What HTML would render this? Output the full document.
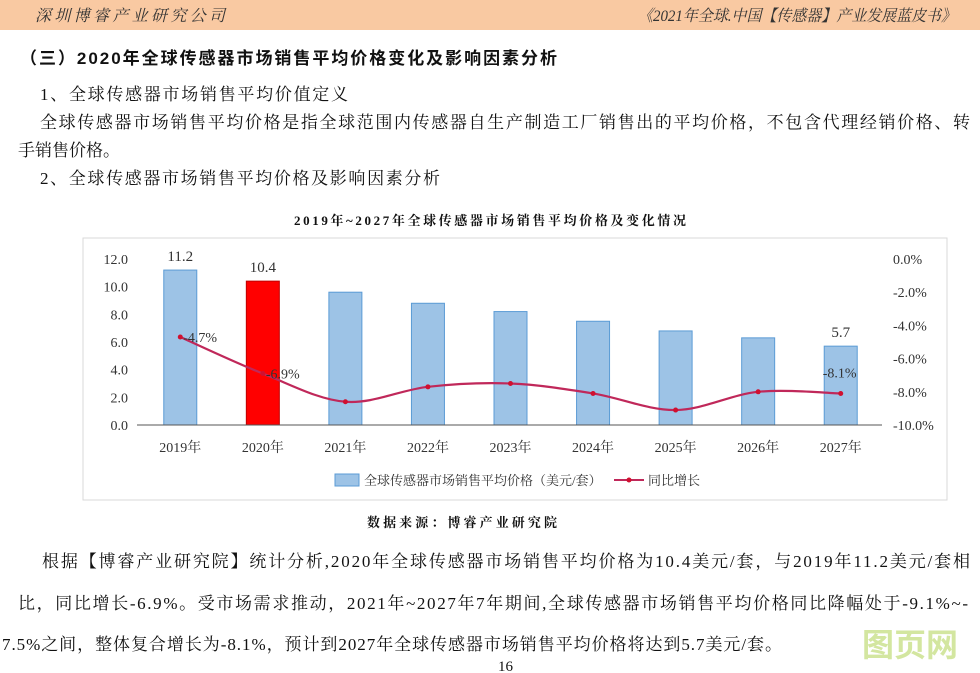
<!DOCTYPE html>
<html><head><meta charset="utf-8"><style>
body{margin:0;background:#fff}
svg{display:block;font-family:"Liberation Serif","Noto Serif CJK SC","Noto Sans CJK SC",serif}
</style></head><body>
<svg id="page" width="980" height="673" viewBox="0 0 980 673">
<rect x="0" y="0" width="980" height="30" fill="#f9c9a2"/>
<text x="35" y="21" font-size="16" font-style="italic" fill="#333" textLength="190">深圳博睿产业研究公司</text>
<text x="638" y="21" font-size="16" font-style="italic" fill="#333" textLength="318" lengthAdjust="spacingAndGlyphs">《2021年全球.中国【传感器】产业发展蓝皮书》</text>
<text x="20" y="64" font-size="17" font-family="Liberation Sans,Noto Sans CJK SC,sans-serif" font-weight="bold" fill="#111" textLength="537">（三）2020年全球传感器市场销售平均价格变化及影响因素分析</text>
<text x="40" y="100" font-size="17" fill="#111" textLength="308">1、全球传感器市场销售平均价值定义</text>
<text x="40" y="128" font-size="17" fill="#111" textLength="930">全球传感器市场销售平均价格是指全球范围内传感器自生产制造工厂销售出的平均价格，不包含代理经销价格、转</text>
<text x="18" y="156" font-size="17" fill="#111" textLength="102">手销售价格。</text>
<text x="40" y="184" font-size="17" fill="#111" textLength="400">2、全球传感器市场销售平均价格及影响因素分析</text>
<text x="294" y="225" font-size="13" font-weight="bold" fill="#111" textLength="392">2019年~2027年全球传感器市场销售平均价格及变化情况</text>
<rect x="83" y="238" width="864" height="262" fill="#fff" stroke="#d9d9d9"/>
<g id="chart"></g>
<text x="367" y="527" font-size="13" font-weight="bold" fill="#111" textLength="190">数据来源：博睿产业研究院</text>
<text x="42" y="567" font-size="17" fill="#111" textLength="928">根据【博睿产业研究院】统计分析,2020年全球传感器市场销售平均价格为10.4美元/套，与2019年11.2美元/套相</text>
<text x="18" y="609" font-size="17" fill="#111" textLength="950">比，同比增长-6.9%。受市场需求推动，2021年~2027年7年期间,全球传感器市场销售平均价格同比降幅处于-9.1%~-</text>
<text x="2" y="650" font-size="17" fill="#111" textLength="780">7.5%之间，整体复合增长为-8.1%，预计到2027年全球传感器市场销售平均价格将达到5.7美元/套。</text>
<text x="498" y="671" font-size="15" fill="#111">16</text>
<text x="862" y="656" font-size="32" font-family="Liberation Sans,Noto Sans CJK SC,sans-serif" font-weight="bold" fill="#d3e6a0">图页网</text>
</svg>
<script>
const years=["2019年","2020年","2021年","2022年","2023年","2024年","2025年","2026年","2027年"];
const prices=[11.2,10.4,9.6,8.8,8.2,7.5,6.8,6.3,5.7];
const growth=[-4.7,-6.9,-8.6,-7.7,-7.5,-8.1,-9.1,-8.0,-8.1];
const leftTicks=[0,2,4,6,8,10,12];
const rightTicks=[0,-2,-4,-6,-8,-10];
const priceLabels={0:"11.2",1:"10.4",8:"5.7"};
const growthLabels={0:"-4.7%",1:"-6.9%",8:"-8.1%"};

const NS="http://www.w3.org/2000/svg";
const g=document.getElementById('chart');
const x0=139,x1=882,yBase=425,yTop=259;
const step=(x1-x0)/years.length;
const xc=i=>x0+step*(i+0.5);
const yL=v=>yBase-(v/12)*(yBase-yTop);
const yR=v=>yTop+(-v/10)*(yBase-yTop);
function el(t,a,txt){const e=document.createElementNS(NS,t);for(const k in a)e.setAttribute(k,a[k]);if(txt!=null)e.textContent=txt;g.appendChild(e);return e;}

leftTicks.forEach(v=>{
  const t=el('text',{x:128,y:yL(v)+5,'font-size':14,'text-anchor':'end',fill:'#333'},v.toFixed(1));
  
  
});
rightTicks.forEach(v=>{
  const t=el('text',{x:893,y:yR(v)+5,'font-size':14,fill:'#333'},v.toFixed(1)+'%');
  
  
});
prices.forEach((v,i)=>{
  const r=el('rect',{x:xc(i)-16.5,y:yL(v),width:33,height:yBase-yL(v),fill:i===1?'#ff0000':'#9dc3e6',stroke:i===1?'#c00000':'#5b9bd5','stroke-width':1});
  
  
  if(priceLabels[i]){
    const t=el('text',{x:xc(i),y:yL(v)-9,'font-size':15,'text-anchor':'middle',fill:'#333'},priceLabels[i]);
    
    
  }
  const c=el('text',{x:xc(i),y:452,'font-size':14,'text-anchor':'middle',fill:'#333'},years[i]);
  
  
});
const ax=el('line',{x1:x0-2,y1:yBase,x2:x1,y2:yBase,stroke:'#555','stroke-width':1});


const pts=growth.map((v,i)=>[xc(i),yR(v)]);
let d='M'+pts[0][0]+','+pts[0][1];
for(let i=0;i<pts.length-1;i++){
  const p0=pts[i-1]||pts[i],p1=pts[i],p2=pts[i+1],p3=pts[i+2]||p2;
  const c1=[p1[0]+(p2[0]-p0[0])/6,p1[1]+(p2[1]-p0[1])/6];
  const c2=[p2[0]-(p3[0]-p1[0])/6,p2[1]-(p3[1]-p1[1])/6];
  d+=` C${c1[0]},${c1[1]} ${c2[0]},${c2[1]} ${p2[0]},${p2[1]}`;
}
const ln=el('path',{d:d,fill:'none',stroke:'#c0285a','stroke-width':2.2});


pts.forEach((p,i)=>{
  const m=el('circle',{cx:p[0],cy:p[1],r:2.5,fill:'#d01030'});
  
  
  if(growthLabels[i]){
    const off=i===8?[-18,-16]:[3,5];
    const t=el('text',{x:p[0]+off[0],y:p[1]+off[1],'font-size':14,fill:'#333'},growthLabels[i]);
    
    
  }
});
const lg1=el('rect',{x:335,y:474,width:24,height:12,fill:'#9dc3e6',stroke:'#5b9bd5'});


const lt1=el('text',{x:364,y:485,'font-size':13,fill:'#333'},'全球传感器市场销售平均价格（美元/套）');


const lg2=el('line',{x1:614,y1:480,x2:644,y2:480,stroke:'#c0285a','stroke-width':2});


const lgc=el('circle',{cx:629,cy:480,r:2.5,fill:'#d01030'});


const lt2=el('text',{x:648,y:485,'font-size':13,fill:'#333'},'同比增长');


</script>
</body></html>
